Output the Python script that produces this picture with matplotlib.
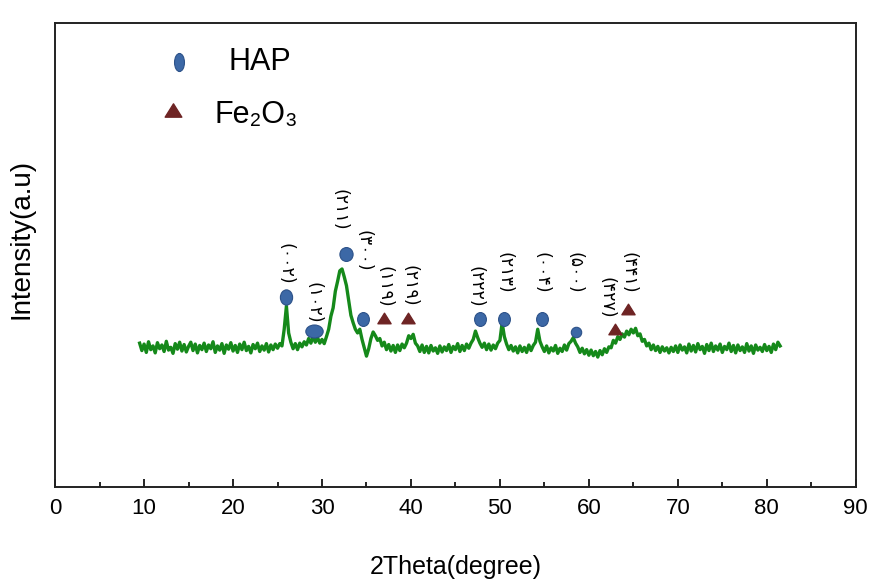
import numpy as np
import matplotlib
matplotlib.use('Agg')
import matplotlib.pyplot as plt
from matplotlib.path import Path
from matplotlib.transforms import Affine2D

# XRD pattern, 0.25 degree steps from 9.5 to 81.5
theta_start = 9.5
theta_step = 0.25
intensity = [
    31.0, 29.4, 30.8, 29.0, 31.3, 29.6, 30.4, 28.9, 31.1, 29.8, 30.6, 29.2, 31.4, 29.5, 30.1, 28.8, 30.9, 29.7, 31.2, 29.3,
    30.7, 29.1, 30.3, 31.2, 29.4, 30.8, 28.9, 30.5, 29.6, 31.0, 29.2, 30.6, 29.8, 31.3, 29.0, 30.4, 29.5, 30.9, 28.8, 30.6,
    29.7, 31.1, 29.3, 30.5, 29.0, 30.8, 29.6, 31.2, 29.4, 30.3, 28.9, 30.7, 29.8, 31.0, 29.2, 30.4, 29.5, 30.9, 29.1, 30.6,
    29.6, 30.8, 29.9, 30.9, 30.4, 34.0, 39.0, 33.2, 31.2, 29.8, 30.9, 29.6, 31.0, 30.2, 31.3, 30.6, 32.0, 31.0, 32.4, 31.2,
    32.2, 31.0, 31.8, 30.9, 32.4, 34.0, 36.8, 38.6, 42.2, 44.3, 46.6, 47.0, 45.3, 43.4, 40.2, 37.0, 35.4, 34.0, 33.2, 34.0,
    31.8, 30.0, 28.2, 29.8, 32.0, 33.4, 32.6, 31.6, 32.0, 30.4, 31.2, 29.6, 30.7, 29.3, 30.5, 29.0, 30.6, 29.4, 30.8, 30.0,
    31.0, 32.6, 32.0, 32.9, 31.0, 30.4, 29.2, 30.6, 29.0, 30.3, 28.9, 30.5, 29.3, 30.0, 28.8, 30.4, 29.1, 30.2, 29.4, 30.7,
    29.0, 30.3, 29.6, 30.9, 29.2, 30.5, 29.4, 30.8, 29.9, 31.0, 31.8, 33.6, 32.2, 31.0, 30.1, 31.0, 29.6, 30.8, 29.5, 30.6,
    29.8, 31.0, 31.6, 35.4, 32.4, 30.8, 29.6, 30.5, 29.3, 30.2, 28.9, 30.4, 29.2, 30.1, 29.0, 30.6, 29.4, 30.5, 31.2, 34.0,
    31.4, 30.2, 29.2, 30.4, 28.9, 30.0, 29.3, 30.5, 28.8, 29.9, 29.2, 30.6, 29.5, 30.9, 31.4, 32.2, 31.0, 30.2, 29.0, 29.9,
    28.7, 29.6, 28.4, 29.5, 28.3, 29.2, 28.0, 29.4, 28.5, 29.8, 29.0, 30.2, 30.0, 31.6, 31.0, 32.4, 31.8, 33.0, 32.3, 33.6,
    32.8, 34.0, 33.2, 34.2, 32.6, 33.0, 31.4, 31.8, 30.4, 31.0, 29.6, 30.6, 29.4, 30.3, 29.0, 30.2, 29.3, 30.0, 28.9, 30.1,
    29.2, 30.4, 29.0, 30.6, 29.5, 30.2, 28.9, 30.8, 29.3, 30.5, 29.1, 30.9, 29.6, 30.3, 28.8, 30.7, 29.4, 31.0, 29.2, 30.4,
    29.5, 30.8, 29.0, 30.3, 29.6, 31.0, 29.2, 30.5, 28.9, 30.6, 29.4, 30.2, 29.0, 30.9, 29.3, 30.4, 28.8, 30.6, 29.5, 30.1,
    29.2, 30.7, 29.4, 30.3, 29.0, 30.8, 29.6, 31.2, 30.4,
]
two_theta = theta_start + theta_step * np.arange(len(intensity))

# phase markers
hap_x = [25.9, 29.1, 32.7, 34.6, 47.8, 50.5, 54.7, 58.6]
hap_y = [40.9, 33.6, 50.2, 36.2, 36.2, 36.2, 36.2, 33.4]
fe_x = [37.0, 39.7, 62.9, 64.4]
fe_y = [36.4, 36.4, 34.1, 38.4]

# miller indices (persian digits) above the peaks
hkl_text = ['(۰۰۲)', '(۱۰۲)', '(۲۱۱)', '(۳۰۰)', '(۱۱۹)', '(۲۱۹)',
            '(۲۲۲)', '(۲۱۳)', '(۰۰۴)', '(۵۰۰)', '(۴۲۷)', '(۴۴۱)']
hkl_x = [25.9, 29.1, 32.0, 34.7, 37.0, 39.8, 47.2, 50.5, 54.7, 58.4, 62.0, 64.5]
hkl_y = [48.1, 39.7, 59.7, 50.9, 43.1, 43.3, 43.1, 46.1, 46.1, 46.1, 40.7, 46.1]

xticks = [0, 10, 20, 30, 40, 50, 60, 70, 80, 90]

hap_col = '#3c68a6'
hap_edge = '#2d5289'
fe_col = '#6e2424'


def ellipse(w, h):
    return Path.unit_circle().transformed(Affine2D().scale(w, h))


tri = Path([(-1, -0.8), (1, -0.8), (0, 0.8), (-1, -0.8)],
           [Path.MOVETO, Path.LINETO, Path.LINETO, Path.CLOSEPOLY])

fig = plt.figure(figsize=(8.75, 5.81), dpi=100)
ax = fig.add_axes([0.063, 0.162, 0.915, 0.798])

ax.plot(two_theta, intensity, color='#15891a', lw=2.4)

# HAP markers, shapes differ a bit in the original
hap_shape = [(0.8, 1), (1, 0.75), (0.95, 1), (0.85, 1), (0.85, 1), (0.85, 1), (0.85, 1), (1, 1)]
hap_ms = [11, 12.5, 10, 10, 10, 10, 10, 7.5]
for x, y, shp, ms in zip(hap_x, hap_y, hap_shape, hap_ms):
    ax.plot(x, y, marker=ellipse(*shp), ms=ms, color=hap_col, mec=hap_edge, mew=0.8, ls='none')

ax.plot(fe_x, fe_y, marker=tri, ms=9.5, color=fe_col, ls='none')

for t, x, y in zip(hkl_text, hkl_x, hkl_y):
    ax.text(x, y, t, rotation=-90, ha='center', va='center', fontsize=12.5,
            family=['DejaVu Sans'])

# legend drawn by hand like the original
ax.plot(13.9, 91.6, marker=ellipse(0.55, 1), ms=13, color=hap_col, mec=hap_edge, mew=0.8, ls='none')
ax.plot(13.2, 81.3, marker=tri, ms=12, color=fe_col, ls='none')
ax.text(19.5, 91.6, 'HAP', fontsize=22, va='center', family=['Liberation Sans'])
ax.text(17.9, 80.3, 'Fe₂O₃', fontsize=22, va='center', family=['Liberation Sans', 'DejaVu Sans'])

ax.set_xlim(0, 90)
ax.set_ylim(0, 100)
ax.set_xticks(xticks)
ax.set_xticks(range(5, 90, 10), minor=True)
ax.set_yticks([])
ax.tick_params(axis='x', which='major', direction='in', length=6, width=1.2, pad=8, labelsize=16)
ax.tick_params(axis='x', which='minor', direction='in', length=3.5, width=1.2)
for lab in ax.get_xticklabels():
    lab.set_family(['Liberation Sans'])
for s in ax.spines.values():
    s.set_linewidth(1.4)
    s.set_color('#222222')

ax.set_xlabel('2Theta(degree)', fontsize=18, labelpad=26, family=['Liberation Sans'])
ax.set_ylabel('Intensity(a.u)', fontsize=20, labelpad=8, family=['Liberation Sans'])
ax.yaxis.set_label_coords(-0.026, 0.535)

fig.savefig('out.png', dpi=100)
